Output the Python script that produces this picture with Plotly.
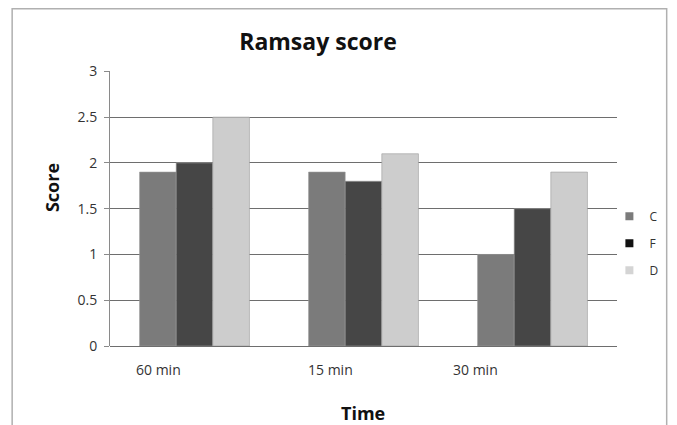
import plotly.graph_objects as go

categories = ["60 min", "15 min", "30 min"]
series_names = ["C", "F", "D"]
values_C = [1.9, 1.9, 1.0]
values_F = [2.0, 1.8, 1.5]
values_D = [2.5, 2.1, 1.9]
y_ticks = [0, 0.5, 1, 1.5, 2, 2.5, 3]
y_tick_labels = ["0", "0.5", "1", "1.5", "2", "2.5", "3"]

colors = {"C": "#7b7b7b", "F": "#464646", "D": "#cdcdcd"}
legend_colors = {"C": "#7b7b7b", "F": "#111111", "D": "#d4d4d4"}
series = {"C": values_C, "F": values_F, "D": values_D}
FONT = "Open Sans, Liberation Sans, sans-serif"

fig = go.Figure()
for name in series_names:
    fig.add_trace(go.Bar(
        x=categories, y=series[name], name=name,
        marker=dict(color=colors[name], line=dict(width=0.6, color="#9a9a9a")),
        legendgroup=name, showlegend=False,
    ))
# legend entries with small square swatches
for name in series_names:
    fig.add_trace(go.Scatter(
        x=[None], y=[None], mode="markers", name=name, legendgroup=name,
        marker=dict(symbol="square", size=8, color=legend_colors[name]),
        showlegend=True,
    ))

# x tick labels as annotations (offset left like the reference)
label_shift = [-36, -33, -57]
for cat, sh in zip(categories, label_shift):
    fig.add_annotation(x=cat, y=0, xref="x", yref="paper", yshift=-23, xshift=sh,
                       text=cat, showarrow=False, xanchor="center", yanchor="middle",
                       font=dict(family=FONT, size=14, color="#333333"))

fig.add_annotation(x=0.499, y=-0.244, xref="paper", yref="paper", text="<b>Time</b>",
                   showarrow=False, xanchor="center", yanchor="middle",
                   font=dict(family=FONT, size=18, color="#111111"))
fig.add_annotation(x=-0.114, y=0.575, xref="paper", yref="paper", text="<b>Score</b>",
                   textangle=-90, showarrow=False, xanchor="center", yanchor="middle",
                   font=dict(family=FONT, size=18, color="#111111"))

fig.add_shape(type="rect", xref="paper", yref="paper", x0=-0.193, x1=1.098,
              y0=-0.45, y1=1.226, line=dict(color="#b0b0b0", width=1.5), layer="below")

W, H = 669, 417
fig.update_layout(
    width=W, height=H,
    margin=dict(l=102, r=60, t=63, b=79, autoexpand=False),
    paper_bgcolor="white", plot_bgcolor="white",
    title=dict(text="<b>Ramsay score</b>", x=310 / W, xanchor="center",
               y=1 - 34 / H, yanchor="middle",
               font=dict(family=FONT, size=23, color="#111111")),
    barmode="group", bargap=0.35, bargroupgap=0.0,
    showlegend=True,
    legend=dict(x=0.985, y=0.525, xanchor="left", yanchor="top",
                font=dict(family=FONT, size=12, color="#333333"),
                tracegroupgap=8, itemwidth=30, bgcolor="rgba(0,0,0,0)"),
    xaxis=dict(showticklabels=False, showgrid=False, zeroline=False,
               showline=False, ticks=""),
    yaxis=dict(range=[0, 3.004], tickvals=y_ticks, ticktext=y_tick_labels,
               showgrid=True, gridcolor="#6e6e6e", gridwidth=1,
               zeroline=True, zerolinecolor="#6e6e6e", zerolinewidth=1,
               showline=True, linecolor="#8a8a8a", linewidth=1,
               ticks="outside", ticklen=5, tickcolor="#8a8a8a",
               ticklabelstandoff=4,
               tickfont=dict(family=FONT, size=14, color="#333333")),
)

fig.write_html("out.html")
